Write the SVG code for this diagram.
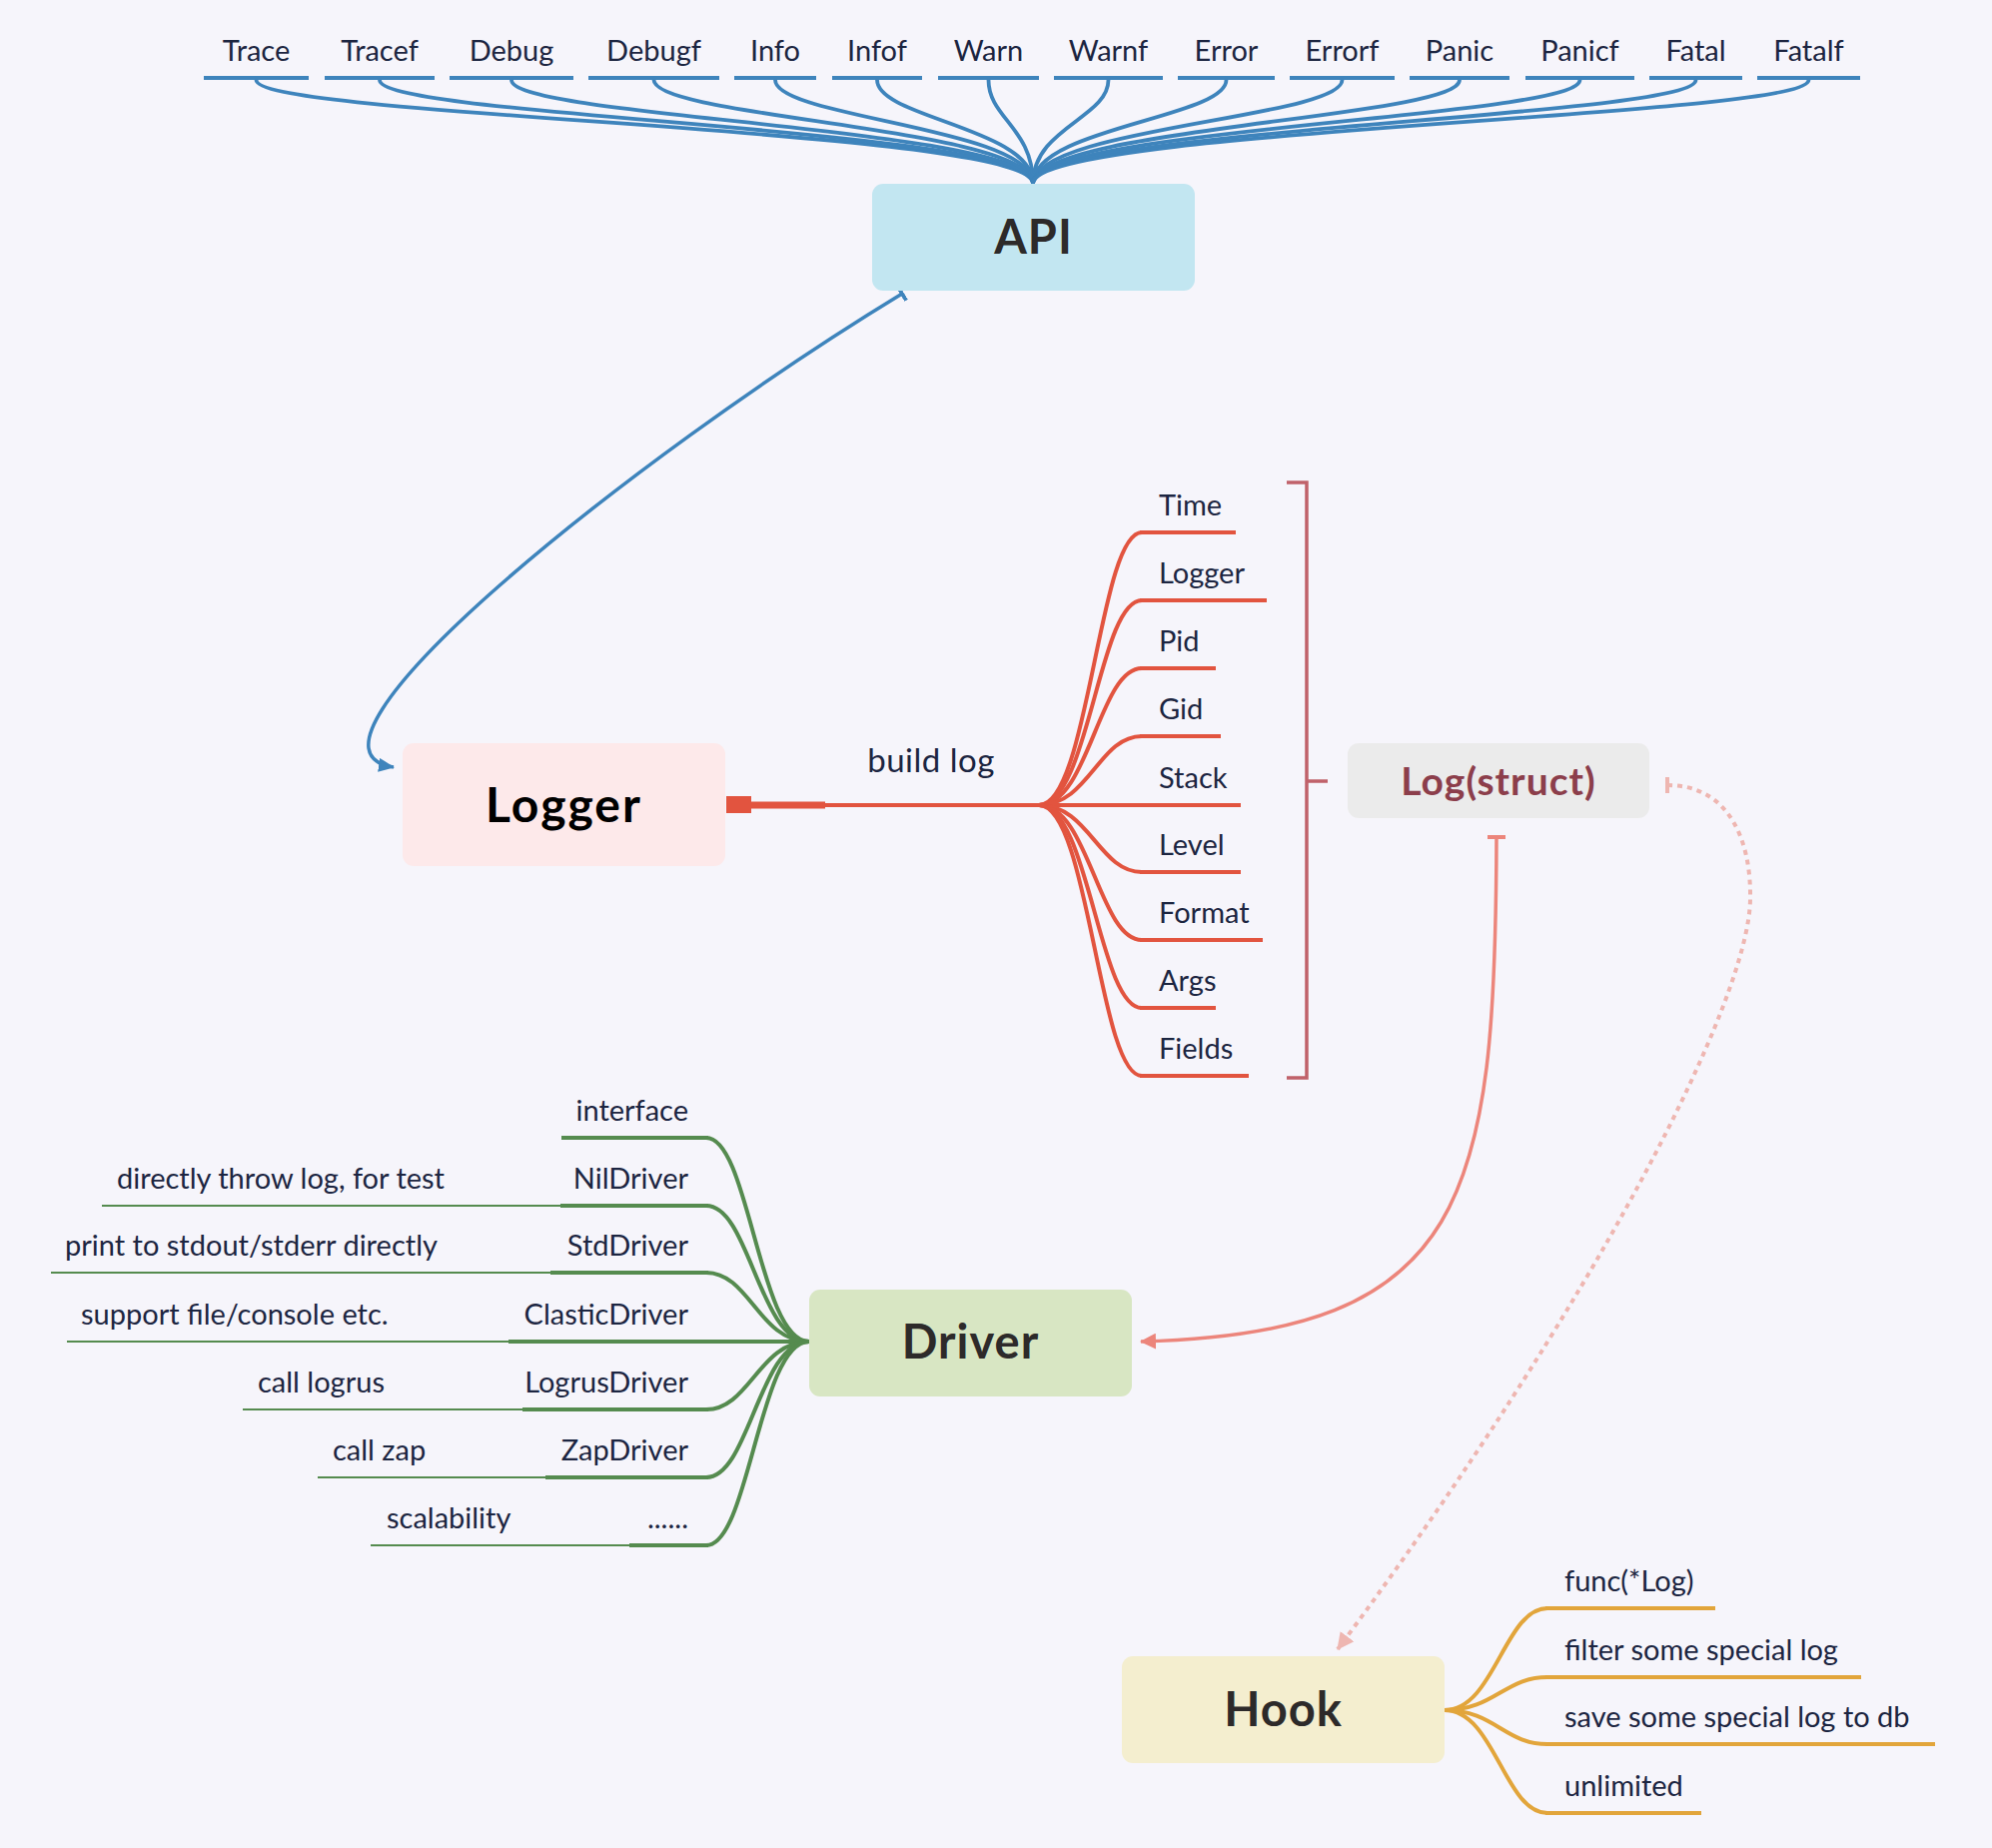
<svg xmlns="http://www.w3.org/2000/svg" width="1994" height="1850" viewBox="0 0 1994 1850">
<style>
.lbl{font-family:Lato,"Liberation Sans",sans-serif;font-size:29px;fill:#1c2541}
.mid{text-anchor:middle}
.end{text-anchor:end}
.title{font-family:Lato,"Liberation Sans",sans-serif;font-weight:700;font-size:47px;letter-spacing:1px;text-anchor:middle;fill:#2d2a2a}
.blue{fill:none;stroke:#3e84bc;stroke-width:3.8;stroke-linecap:round}
.bl{stroke:#3e84bc;stroke-width:4}
.red{fill:none;stroke:#e2543f;stroke-width:4}
.rl{stroke:#e2543f;stroke-width:4}
.green{fill:none;stroke:#558b4f;stroke-width:4}
.gl{stroke:#558b4f;stroke-width:4}
.gl2{stroke:#558b4f;stroke-width:2.2}
.yel{fill:none;stroke:#e2a53b;stroke-width:4}
.yl{stroke:#e2a53b;stroke-width:4}
</style>
<defs>
<marker id="arrBlue" viewBox="0 0 16 14" refX="15" refY="7" markerWidth="16" markerHeight="14" orient="auto" markerUnits="userSpaceOnUse"><path d="M0 0 L16 7 L0 14 z" fill="#3e84bc"/></marker>
<marker id="barBlue" viewBox="0 0 4 16" refX="2" refY="8" markerWidth="4" markerHeight="16" orient="auto" markerUnits="userSpaceOnUse"><rect width="4" height="16" fill="#3e84bc"/></marker>
<marker id="arrSal" viewBox="0 0 16 16" refX="15" refY="8" markerWidth="16" markerHeight="16" orient="auto" markerUnits="userSpaceOnUse"><path d="M0 0 L16 8 L0 16 z" fill="#ec857b"/></marker>
<marker id="barSal" viewBox="0 0 4 18" refX="2" refY="9" markerWidth="4" markerHeight="18" orient="auto" markerUnits="userSpaceOnUse"><rect width="4" height="18" fill="#ec857b"/></marker>
<marker id="arrPink" viewBox="0 0 16 16" refX="15" refY="8" markerWidth="17" markerHeight="17" orient="auto" markerUnits="userSpaceOnUse"><path d="M0 0 L16 8 L0 16 z" fill="#eeb6b1"/></marker>
<marker id="barPink" viewBox="0 0 4 16" refX="2" refY="8" markerWidth="4" markerHeight="16" orient="auto" markerUnits="userSpaceOnUse"><rect width="4" height="16" fill="#eeb6b1"/></marker>
</defs>
<rect width="1994" height="1850" fill="#f6f5fb"/>

<g id="connectors">
  <!-- API to top labels -->
  <g class="blue">
    <path d="M1034 184 C1034 128 256.5 118 256.5 80"/>
    <path d="M1034 184 C1034 128 380 118 380 80"/>
    <path d="M1034 184 C1034 128 512 118 512 80"/>
    <path d="M1034 184 C1034 128 654.5 118 654.5 80"/>
    <path d="M1034 184 C1034 128 776 118 776 80"/>
    <path d="M1034 184 C1034 128 878 118 878 80"/>
    <path d="M1034 184 C1034 128 989.5 118 989.5 80"/>
    <path d="M1034 184 C1034 128 1109.5 118 1109.5 80"/>
    <path d="M1034 184 C1034 128 1227.5 118 1227.5 80"/>
    <path d="M1034 184 C1034 128 1343.5 118 1343.5 80"/>
    <path d="M1034 184 C1034 128 1461 118 1461 80"/>
    <path d="M1034 184 C1034 128 1581.5 118 1581.5 80"/>
    <path d="M1034 184 C1034 128 1697.5 118 1697.5 80"/>
    <path d="M1034 184 C1034 128 1810.5 118 1810.5 80"/>
  </g>
  <!-- API <-> Logger -->
  <path d="M903 294 C630 460 270 750 394 768" fill="none" stroke="#3e84bc" stroke-width="3.5" marker-start="url(#barBlue)" marker-end="url(#arrBlue)"/>
  <!-- Logger -> build log -->
  <rect x="727" y="797" width="25" height="17" fill="#e2543f"/>
  <line x1="752" y1="806" x2="826" y2="806" stroke="#e2543f" stroke-width="7"/>
  <line x1="826" y1="806" x2="1040" y2="806" class="rl"/>
  <g class="red">
    <path d="M1040 806 C1090 806 1100 533 1143 533"/>
    <path d="M1040 806 C1090 806 1100 601 1143 601"/>
    <path d="M1040 806 C1090 806 1100 669 1143 669"/>
    <path d="M1040 806 C1090 806 1100 737 1143 737"/>
    <path d="M1040 806 L1143 806"/>
    <path d="M1040 806 C1090 806 1100 873 1143 873"/>
    <path d="M1040 806 C1090 806 1100 941 1143 941"/>
    <path d="M1040 806 C1090 806 1100 1009 1143 1009"/>
    <path d="M1040 806 C1090 806 1100 1077 1143 1077"/>
  </g>
  <!-- summary bracket -->
  <path d="M1288 483 H1308 V1079 H1288 M1308 782 H1329" fill="none" stroke="#c0616a" stroke-width="3.5"/>
  <!-- Log(struct) -> Driver -->
  <path d="M1498 838 C1497 1200 1470 1335 1142 1343" fill="none" stroke="#ec857b" stroke-width="3.5" marker-start="url(#barSal)" marker-end="url(#arrSal)"/>
  <!-- Log(struct) -> Hook (dotted) -->
  <path d="M1669 786 C1730 786 1753 840 1752 900 C1751 1000 1600 1300 1339 1651" fill="none" stroke="#eeb6b1" stroke-width="4" stroke-dasharray="5 5" marker-start="url(#barPink)" marker-end="url(#arrPink)"/>
  <!-- Driver children -->
  <g class="green">
    <path d="M810 1343 C760 1343 750 1139 707 1139"/>
    <path d="M810 1343 C760 1343 750 1207 707 1207"/>
    <path d="M810 1343 C760 1343 750 1274 707 1274"/>
    <path d="M810 1343 L707 1343"/>
    <path d="M810 1343 C760 1343 750 1411 707 1411"/>
    <path d="M810 1343 C760 1343 750 1479 707 1479"/>
    <path d="M810 1343 C760 1343 750 1547 707 1547"/>
  </g>
  <!-- grandchildren connectors -->
  <line x1="441" y1="1207" x2="561" y2="1207" class="gl2"/>
  <line x1="432" y1="1274" x2="551" y2="1274" class="gl2"/>
  <line x1="390" y1="1343" x2="509" y2="1343" class="gl2"/>
  <line x1="390" y1="1411" x2="523" y2="1411" class="gl2"/>
  <line x1="426" y1="1479" x2="546" y2="1479" class="gl2"/>
  <line x1="510" y1="1547" x2="630" y2="1547" class="gl2"/>
  <!-- Hook children -->
  <g class="yel">
    <path d="M1446 1712 C1496 1712 1506 1610 1549 1610"/>
    <path d="M1446 1712 C1496 1712 1506 1679 1549 1679"/>
    <path d="M1446 1712 C1496 1712 1506 1746 1549 1746"/>
    <path d="M1446 1712 C1496 1712 1506 1815 1549 1815"/>
  </g>
</g>

<!-- top API labels -->
<g id="node-trace"><text class="lbl mid" x="256.5" y="61">Trace</text><line class="bl" x1="204" y1="78" x2="309" y2="78"/></g>
<g id="node-tracef"><text class="lbl mid" x="380" y="61">Tracef</text><line class="bl" x1="325" y1="78" x2="435" y2="78"/></g>
<g id="node-debug"><text class="lbl mid" x="512" y="61">Debug</text><line class="bl" x1="450" y1="78" x2="574" y2="78"/></g>
<g id="node-debugf"><text class="lbl mid" x="654.5" y="61">Debugf</text><line class="bl" x1="589" y1="78" x2="720" y2="78"/></g>
<g id="node-info"><text class="lbl mid" x="776" y="61">Info</text><line class="bl" x1="735" y1="78" x2="817" y2="78"/></g>
<g id="node-infof"><text class="lbl mid" x="878" y="61">Infof</text><line class="bl" x1="833" y1="78" x2="923" y2="78"/></g>
<g id="node-warn"><text class="lbl mid" x="989.5" y="61">Warn</text><line class="bl" x1="939" y1="78" x2="1040" y2="78"/></g>
<g id="node-warnf"><text class="lbl mid" x="1109.5" y="61">Warnf</text><line class="bl" x1="1055" y1="78" x2="1164" y2="78"/></g>
<g id="node-error"><text class="lbl mid" x="1227.5" y="61">Error</text><line class="bl" x1="1179" y1="78" x2="1276" y2="78"/></g>
<g id="node-errorf"><text class="lbl mid" x="1343.5" y="61">Errorf</text><line class="bl" x1="1291" y1="78" x2="1396" y2="78"/></g>
<g id="node-panic"><text class="lbl mid" x="1461" y="61">Panic</text><line class="bl" x1="1411" y1="78" x2="1511" y2="78"/></g>
<g id="node-panicf"><text class="lbl mid" x="1581.5" y="61">Panicf</text><line class="bl" x1="1527" y1="78" x2="1636" y2="78"/></g>
<g id="node-fatal"><text class="lbl mid" x="1697.5" y="61">Fatal</text><line class="bl" x1="1651" y1="78" x2="1744" y2="78"/></g>
<g id="node-fatalf"><text class="lbl mid" x="1810.5" y="61">Fatalf</text><line class="bl" x1="1759" y1="78" x2="1862" y2="78"/></g>

<g id="node-api"><rect x="873" y="184" width="323" height="107" rx="11" fill="#c2e6f1"/><text class="title" x="1034.5" y="254">API</text></g>
<g id="node-logger"><rect x="403" y="744" width="323" height="123" rx="11" fill="#fde9ea"/><text class="title" x="564.5" y="823" style="fill:#000;letter-spacing:2px;font-size:48px">Logger</text></g>
<g id="label-buildlog"><text class="lbl mid" x="932" y="773" style="font-size:33px;letter-spacing:0.5px">build log</text></g>

<g id="node-time"><text class="lbl" x="1160" y="516">Time</text><line class="rl" x1="1141" y1="533" x2="1237" y2="533"/></g>
<g id="node-logger-field"><text class="lbl" x="1160" y="584">Logger</text><line class="rl" x1="1141" y1="601" x2="1268" y2="601"/></g>
<g id="node-pid"><text class="lbl" x="1160" y="652">Pid</text><line class="rl" x1="1141" y1="669" x2="1217" y2="669"/></g>
<g id="node-gid"><text class="lbl" x="1160" y="720">Gid</text><line class="rl" x1="1141" y1="737" x2="1222" y2="737"/></g>
<g id="node-stack"><text class="lbl" x="1160" y="789">Stack</text><line class="rl" x1="1141" y1="806" x2="1242" y2="806"/></g>
<g id="node-level"><text class="lbl" x="1160" y="856">Level</text><line class="rl" x1="1141" y1="873" x2="1242" y2="873"/></g>
<g id="node-format"><text class="lbl" x="1160" y="924">Format</text><line class="rl" x1="1141" y1="941" x2="1264" y2="941"/></g>
<g id="node-args"><text class="lbl" x="1160" y="992">Args</text><line class="rl" x1="1141" y1="1009" x2="1217" y2="1009"/></g>
<g id="node-fields"><text class="lbl" x="1160" y="1060">Fields</text><line class="rl" x1="1141" y1="1077" x2="1250" y2="1077"/></g>

<g id="node-logstruct"><rect x="1349" y="744" width="302" height="75" rx="11" fill="#ebebeb"/><text class="title" x="1500" y="796" style="font-size:39px;fill:#8c3e4b">Log(struct)</text></g>

<g id="node-driver"><rect x="810" y="1291" width="323" height="107" rx="11" fill="#d8e6c3"/><text class="title" x="971.5" y="1360">Driver</text></g>

<g id="node-interface"><text class="lbl end" x="689" y="1122">interface</text><line class="gl" x1="562" y1="1139" x2="709" y2="1139"/></g>
<g id="node-nildriver"><text class="lbl end" x="689" y="1190">NilDriver</text><line class="gl" x1="561" y1="1207" x2="709" y2="1207"/></g>
<g id="node-stddriver"><text class="lbl end" x="689" y="1257">StdDriver</text><line class="gl" x1="551" y1="1274" x2="709" y2="1274"/></g>
<g id="node-clasticdriver"><text class="lbl end" x="689" y="1326">ClasticDriver</text><line class="gl" x1="509" y1="1343" x2="709" y2="1343"/></g>
<g id="node-logrusdriver"><text class="lbl end" x="689" y="1394">LogrusDriver</text><line class="gl" x1="523" y1="1411" x2="709" y2="1411"/></g>
<g id="node-zapdriver"><text class="lbl end" x="689" y="1462">ZapDriver</text><line class="gl" x1="546" y1="1479" x2="709" y2="1479"/></g>
<g id="node-more"><text class="lbl end" x="689" y="1530">......</text><line class="gl" x1="630" y1="1547" x2="709" y2="1547"/></g>

<g id="node-nil-desc"><text class="lbl" x="117" y="1190">directly throw log, for test</text><line class="gl2" x1="102" y1="1207" x2="441" y2="1207"/></g>
<g id="node-std-desc"><text class="lbl" x="65" y="1257">print to stdout/stderr directly</text><line class="gl2" x1="51" y1="1274" x2="432" y2="1274"/></g>
<g id="node-clastic-desc"><text class="lbl" x="81" y="1326">support file/console etc.</text><line class="gl2" x1="67" y1="1343" x2="390" y2="1343"/></g>
<g id="node-logrus-desc"><text class="lbl" x="258" y="1394">call logrus</text><line class="gl2" x1="243" y1="1411" x2="390" y2="1411"/></g>
<g id="node-zap-desc"><text class="lbl" x="333" y="1462">call zap</text><line class="gl2" x1="318" y1="1479" x2="426" y2="1479"/></g>
<g id="node-more-desc"><text class="lbl" x="387" y="1530">scalability</text><line class="gl2" x1="371" y1="1547" x2="510" y2="1547"/></g>

<g id="node-hook"><rect x="1123" y="1658" width="323" height="107" rx="11" fill="#f4eecf"/><text class="title" x="1284.5" y="1728">Hook</text></g>
<g id="node-func"><text class="lbl" x="1566" y="1593">func(*Log)</text><line class="yl" x1="1547" y1="1610" x2="1717" y2="1610"/></g>
<g id="node-filter"><text class="lbl" x="1566" y="1662">filter some special log</text><line class="yl" x1="1547" y1="1679" x2="1863" y2="1679"/></g>
<g id="node-save"><text class="lbl" x="1566" y="1729">save some special log to db</text><line class="yl" x1="1547" y1="1746" x2="1937" y2="1746"/></g>
<g id="node-unlimited"><text class="lbl" x="1566" y="1798">unlimited</text><line class="yl" x1="1547" y1="1815" x2="1703" y2="1815"/></g>
</svg>
